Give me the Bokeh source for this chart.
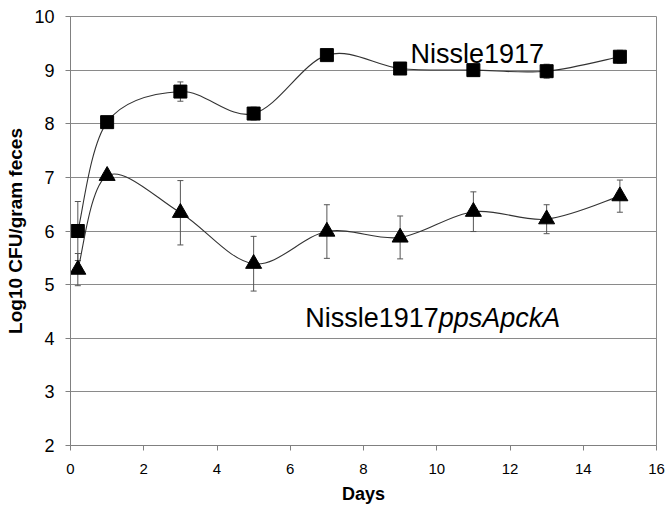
from bokeh.plotting import figure
from bokeh.models import ColumnDataSource, Whisker, TeeHead, Range1d, FixedTicker, Label
from bokeh.embed import file_html
from bokeh.resources import INLINE

# ---- data ----
days = [0.2, 1, 3, 5, 7, 9, 11, 13, 15]
wt_mean = [6.0, 8.03, 8.6, 8.19, 9.28, 9.03, 9.0, 8.98, 9.25]
wt_err = [0.55, 0.05, 0.18, 0.12, 0.05, 0.05, 0.05, 0.13, 0.12]
mut_mean = [5.28, 7.03, 6.34, 5.39, 5.99, 5.88, 6.36, 6.22, 6.65]
mut_err = [0.3, 0.05, 0.6, 0.51, 0.5, 0.4, 0.37, 0.27, 0.3]
x_ticks = [0, 2, 4, 6, 8, 10, 12, 14, 16]
y_ticks = [2, 3, 4, 5, 6, 7, 8, 9, 10]

FONT = "Liberation Sans"

p = figure(width=666, height=506, output_backend="svg", toolbar_location=None,
           x_range=Range1d(0, 16), y_range=Range1d(2, 10),
           min_border_left=70, min_border_right=10, min_border_top=16, min_border_bottom=60)
p.background_fill_color = "white"
p.border_fill_color = "white"
p.outline_line_color = "#8a8a8a"
p.outline_line_width = 1

# grid
p.xgrid.grid_line_color = None
p.ygrid.grid_line_color = "#8a8a8a"
p.ygrid.grid_line_width = 1
p.ygrid.ticker = FixedTicker(ticks=y_ticks)

# axes
p.xaxis.ticker = FixedTicker(ticks=x_ticks)
p.yaxis.ticker = FixedTicker(ticks=y_ticks)
for ax in (p.xaxis[0], p.yaxis[0]):
    ax.axis_line_color = "#808080"
    ax.major_tick_line_color = "#808080"
    ax.major_tick_in = 0
    ax.major_tick_out = 5
    ax.minor_tick_line_color = None
    ax.major_label_text_font = FONT
    ax.major_label_text_color = "black"
    ax.axis_label_text_font = FONT
    ax.axis_label_text_font_style = "bold"
    ax.axis_label_text_color = "black"
p.xaxis.major_label_text_font_size = "15px"
p.yaxis.major_label_text_font_size = "18px"
p.xaxis.major_label_standoff = 13
p.yaxis.major_label_standoff = 11
p.xaxis.axis_label = "Days"
p.yaxis.axis_label = "Log10 CFU/gram feces"
p.xaxis.axis_label_text_font_size = "18px"
p.yaxis.axis_label_text_font_size = "19px"
p.xaxis.axis_label_standoff = 7
p.yaxis.axis_label_standoff = 5


def bezier_cols(xs, ys, t=1.0 / 6.0):
    n = len(xs)
    cols = dict(x0=[], y0=[], x1=[], y1=[], cx0=[], cy0=[], cx1=[], cy1=[])
    for i in range(n - 1):
        i0 = max(i - 1, 0)
        i3 = min(i + 2, n - 1)
        cols["x0"].append(xs[i]); cols["y0"].append(ys[i])
        cols["x1"].append(xs[i + 1]); cols["y1"].append(ys[i + 1])
        cols["cx0"].append(xs[i] + (xs[i + 1] - xs[i0]) * t)
        cols["cy0"].append(ys[i] + (ys[i + 1] - ys[i0]) * t)
        cols["cx1"].append(xs[i + 1] - (xs[i3] - xs[i]) * t)
        cols["cy1"].append(ys[i + 1] - (ys[i3] - ys[i]) * t)
    return ColumnDataSource(cols)


for mean, err, marker, msize in ((wt_mean, wt_err, "square", 13),
                                 (mut_mean, mut_err, "triangle", 16)):
    src = ColumnDataSource(dict(
        x=days, y=mean,
        lo=[m - e for m, e in zip(mean, err)],
        hi=[m + e for m, e in zip(mean, err)]))
    w = Whisker(base="x", lower="lo", upper="hi", source=src, level="underlay",
                line_color="#555555", line_width=1,
                upper_head=TeeHead(size=6, line_color="#555555", line_width=1),
                lower_head=TeeHead(size=6, line_color="#555555", line_width=1))
    p.add_layout(w)
    p.bezier(x0="x0", y0="y0", x1="x1", y1="y1", cx0="cx0", cy0="cy0",
             cx1="cx1", cy1="cy1", source=bezier_cols(days, mean),
             line_color="#333333", line_width=1.1)
    p.scatter("x", "y", source=src, marker=marker, size=msize,
              fill_color="black", line_color="black")

# series labels
p.add_layout(Label(x=9.28, y=9.31, text="Nissle1917", text_font=FONT,
                   text_font_size="27px", text_color="black",
                   text_baseline="alphabetic"))
p.add_layout(Label(x=6.41, y=4.38, text="Nissle1917", text_font=FONT,
                   text_font_size="27px", text_color="black",
                   text_baseline="alphabetic"))
p.add_layout(Label(x=6.41, y=4.38, x_offset=133.5, text="ppsApckA", text_font=FONT,
                   text_font_size="27px", text_font_style="italic", text_color="black",
                   text_baseline="alphabetic"))

open("out.html", "w").write(file_html(p, INLINE))
